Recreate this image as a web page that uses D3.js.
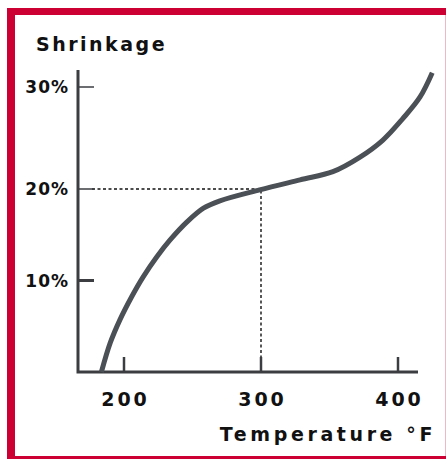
<!DOCTYPE html>
<html>
<head>
<meta charset="utf-8">
<script src="https://cdn.jsdelivr.net/npm/d3@7"></script>
<style>
  body { margin: 0; background: #fff; }
  text { font-family: "DejaVu Sans", Verdana, sans-serif; font-weight: bold; fill: #111; }
</style>
</head>
<body>
<div id="chart"></div>
<script>
// curve
var temps     = [183.5, 190, 197, 205.5, 214, 224, 233.5, 246, 258, 270, 299, 328.5, 352.5, 372, 389, 403.5, 416, 425],
    shrinkage = [0, 3.2, 5.7, 8.2, 10.4, 12.6, 14.4, 16.4, 17.9, 18.7, 19.9, 20.9, 21.7, 23.1, 24.8, 26.9, 29, 31.4],
    xTicks = [200, 300, 400],
    yTicks = [10, 20, 30],
    refTemp = 300,
    refShrink = 20;

var W = 447, H = 459,
  red = "#cc0033",
  axisColor = "#3b3d40",
  lineColor = "#4b5056";

var svg = d3.select("#chart").append("svg")
  .attr("width", W)
  .attr("height", H);

// frame
svg.append("rect").attr("x", 7).attr("y", 8).attr("width", 439).attr("height", 451).style("fill", red);
svg.append("rect").attr("x", 15).attr("y", 15).attr("width", 430).attr("height", 441).style("fill", "#fff");
svg.append("line").attr("x1", 445.5).attr("x2", 445.5).attr("y1", 15).attr("y2", 456)
  .style("stroke", "#f0b8c4").style("stroke-width", 1);

var x = d3.scaleLinear().domain([200, 400]).range([124, 398]);
// the drawing is a little uneven: 20-30% is wider than 0-10%
var y = d3.scaleLinear().domain([0, 20, 30]).range([372, 189, 87]);

var x0 = 78, x1 = 418, yTop = 70, yBot = 372;

// dotted guide lines
svg.append("path")
  .attr("d", "M" + (x0 + 14) + "," + y(refShrink) + "H" + x(refTemp) + "V" + yBot)
  .style("fill", "none")
  .style("stroke", "#111")
  .style("stroke-width", 1.4)
  .style("stroke-dasharray", "3,2.5");

// axes
svg.append("path")
  .attr("d", "M" + x0 + "," + yTop + "V" + yBot + "H" + x1)
  .style("fill", "none")
  .style("stroke", axisColor)
  .style("stroke-width", 3);

svg.selectAll(".ytick")
  .data(yTicks).enter().append("line")
  .attr("class", "ytick")
  .attr("x1", x0).attr("x2", x0 + 16)
  .attr("y1", function(d){ return y(d); })
  .attr("y2", function(d){ return y(d); })
  .style("stroke", axisColor)
  .style("stroke-width", function(d){ return d == 10 ? 3 : 1.5; });

svg.selectAll(".xtick")
  .data(xTicks).enter().append("line")
  .attr("class", "xtick")
  .attr("x1", function(d){ return x(d); })
  .attr("x2", function(d){ return x(d); })
  .attr("y1", yBot - 15).attr("y2", yBot)
  .style("stroke", axisColor)
  .style("stroke-width", 2.5);

svg.selectAll(".ylabel")
  .data(yTicks).enter().append("text")
  .attr("class", "ylabel")
  .attr("x", 69)
  .attr("y", function(d){ return y(d); })
  .attr("dy", "0.36em")
  .style("text-anchor", "end")
  .style("font-size", "17px")
  .style("letter-spacing", "1px")
  .text(function(d){ return d + "%"; });

svg.selectAll(".xlabel")
  .data(xTicks).enter().append("text")
  .attr("class", "xlabel")
  .attr("x", function(d){ return x(d) + 1.5; })
  .attr("y", 406)
  .style("text-anchor", "middle")
  .style("font-size", "19px")
  .style("letter-spacing", "3px")
  .text(function(d){ return d; });

svg.append("text")
  .attr("x", 36).attr("y", 51)
  .style("font-size", "19px")
  .style("letter-spacing", "2.5px")
  .text("Shrinkage");

svg.append("text")
  .attr("x", 436).attr("y", 441)
  .style("text-anchor", "end")
  .style("font-size", "19px")
  .style("letter-spacing", "3.6px")
  .text("Temperature °F");

// shrinkage curve
var pts = temps.map(function(t, i){ return [t, shrinkage[i]]; });
var line = d3.line()
  .x(function(d){ return x(d[0]); })
  .y(function(d){ return y(d[1]); })
  .curve(d3.curveCatmullRom.alpha(0.5));

svg.append("path")
  .datum(pts)
  .attr("d", line)
  .style("fill", "none")
  .style("stroke", lineColor)
  .style("stroke-width", 5);
</script>
</body>
</html>
